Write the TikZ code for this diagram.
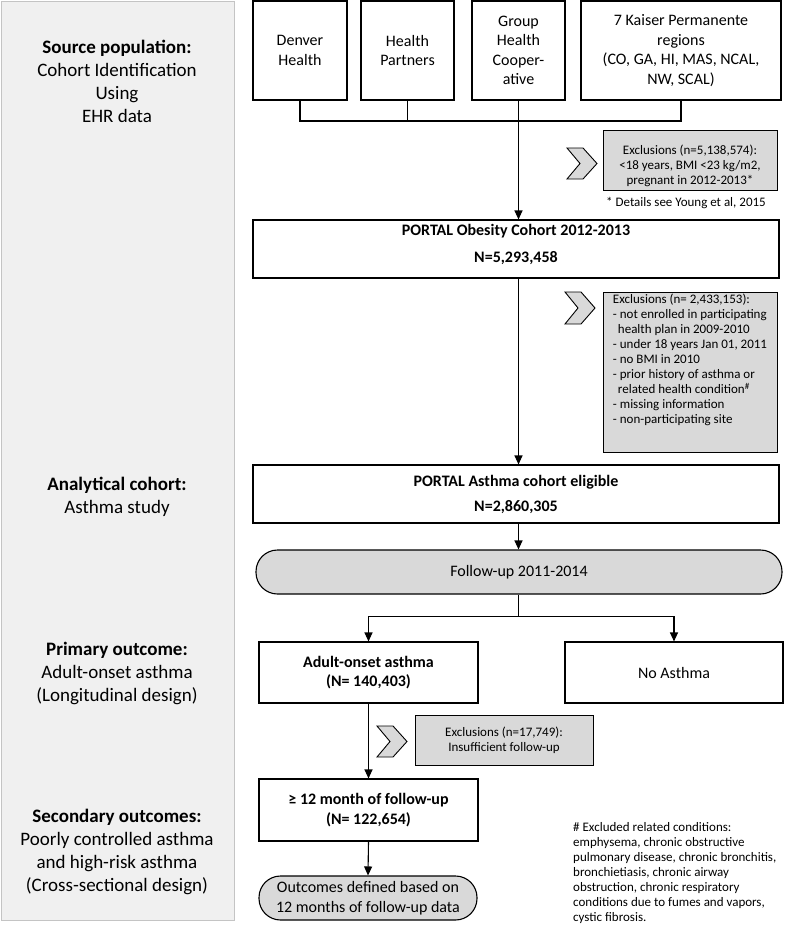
\documentclass[tikz,border=0pt]{standalone}
\usepackage{fontspec}
\setmainfont{Carlito}
\usetikzlibrary{arrows.meta}

\definecolor{panelgrey}{HTML}{F0F0F0}
\definecolor{panelline}{HTML}{C4C4C4}
\definecolor{exclgrey}{HTML}{D9D9D9}

\tikzset{
	box/.style={draw, line width=1.1pt, fill=white, align=center, inner sep=2pt, font=\fontsize{16}{19.5}\selectfont},
	exclbox/.style={draw, line width=0.9pt, fill=exclgrey, align=center, inner sep=2pt, font=\fontsize{13}{15}\selectfont},
	pillbox/.style={box, fill=exclgrey, rounded corners=21.5pt},
	sidetext/.style={align=center, font=\fontsize{19}{23}\selectfont},
	note/.style={align=left, inner sep=3pt, font=\fontsize{13}{15}\selectfont},
	line/.style={line width=1.1pt},
	arr/.style={line width=1.1pt, -{Triangle[width=8pt,length=9pt]}},
	chev/.style={draw, line width=0.9pt, fill=exclgrey, line join=miter},
}

\begin{document}
\begin{tikzpicture}[x=1pt, y=-1pt]
		\useasboundingbox (0, 0) rectangle (785, 932);

		% 左側の灰色パネルを描画
		\draw[draw=panelline, fill=panelgrey, line width=0.8pt] (1, 1) rectangle (234, 920);
		\node[sidetext] (srcpop) at (117, 81.5) {\textbf{Source population:}\\Cohort Identification\\Using\\EHR data};
		\node[sidetext] (analytic) at (117, 496.5) {\textbf{Analytical cohort:}\\Asthma study};
		\node[sidetext] (primary) at (117, 673) {\textbf{Primary outcome:}\\Adult-onset asthma\\(Longitudinal design)};
		\node[sidetext] (secondary) at (117, 852) {\textbf{Secondary outcomes:}\\Poorly controlled asthma\\and high-risk asthma\\(Cross-sectional design)};

		% 参加サイトの箱を描画
		\node[box, minimum width=94pt, minimum height=99pt] (denver) at (300, 50.5) {Denver\\Health};
		\node[box, minimum width=93pt, minimum height=99pt] (partners) at (407.5, 50.5) {Health\\Partners};
		\node[box, minimum width=93pt, minimum height=99pt] (group) at (518.5, 50.5) {Group\\Health\\Cooper-\\ative};
		\node[box, minimum width=200pt, minimum height=99pt] (kaiser) at (681, 50.5) {7 Kaiser Permanente\\regions\\(CO, GA, HI, MAS, NCAL,\\NW, SCAL)};
		\coordinate (join) at (518.5, 121);

		% コホートの箱を描画
		\node[box, minimum width=526pt, minimum height=58pt] (obesity) at (516, 249) {\textbf{PORTAL Obesity Cohort 2012-2013}\\[8pt]\textbf{N=5,293,458}\rule[-11pt]{0pt}{1pt}};
		\node[box, minimum width=526pt, minimum height=58pt] (asthma) at (516, 494) {\textbf{PORTAL Asthma cohort eligible}\\[5.5pt]\textbf{N=2,860,305}};
		\node[pillbox, minimum width=526pt, minimum height=44pt] (follow) at (519, 572) {Follow-up 2011-2014};

		% 結果の箱を描画
		\node[box, minimum width=219pt, minimum height=61pt] (adult) at (368.5, 672.5) {\textbf{Adult-onset asthma}\\\textbf{(N= 140,403)}};
		\node[box, minimum width=218pt, minimum height=61pt] (noasthma) at (674, 672.5) {No Asthma};
		\node[box, minimum width=219pt, minimum height=62pt] (month) at (368.5, 810) {\textbf{≥ 12 month of follow-up}\\\textbf{(N= 122,654)}};
		\node[pillbox, minimum width=218pt, minimum height=44pt] (outcome) at (368, 898) {Outcomes defined based on\\12 months of follow-up data};

		% 除外の箱を描画
		\node[exclbox, minimum width=174pt, minimum height=60pt] (excla) at (690, 160) {\rule{0pt}{21pt}Exclusions (n=5,138,574):\\<18 years, BMI <23 kg/m2,\\pregnant in 2012-2013*};
		\node[note, align=center] (young) at (686, 203) {* Details see Young et al, 2015};
		\node[exclbox, align=left, minimum width=174pt, minimum height=159pt] (exclb) at (690, 372.5) {Exclusions (n= 2,433,153):\\- not enrolled in participating\\\hspace*{5pt}health plan in 2009-2010\\- under 18 years Jan 01, 2011\\- no BMI in 2010\\- prior history of asthma or\\\hspace*{5pt}related health condition\textsuperscript{\#}\\- missing information\\- non-participating site\rule[-27pt]{0pt}{1pt}};
		\node[exclbox, minimum width=178pt, minimum height=50pt] (exclc) at (504, 740) {Exclusions (n=17,749):\\Insufficient follow-up};

		% 矢じり形の記号を描画
		\draw[chev] (567, 148) -- ++(16, 0) -- ++(14, 15.5) -- ++(-14, 15.5) -- ++(-16, 0) -- ++(13, -15.5) -- cycle;
		\draw[chev] (565, 292) -- ++(16, 0) -- ++(14, 16) -- ++(-14, 16) -- ++(-16, 0) -- ++(13, -16) -- cycle;
		\draw[chev] (377, 726) -- ++(16, 0) -- ++(14, 15.5) -- ++(-14, 15.5) -- ++(-16, 0) -- ++(13, -15.5) -- cycle;

		% 除外条件の注を描画
		\node[note, anchor=west] (related) at (570, 873) {\# Excluded related conditions:\\emphysema, chronic obstructive\\pulmonary disease, chronic bronchitis,\\bronchietiasis, chronic airway\\obstruction, chronic respiratory\\conditions due to fumes and vapors,\\cystic fibrosis.};

		% 線と矢印を描画
		\draw[line] (denver.south) |- (join) -| (kaiser.south);
		\draw[line] (partners.south) -- (partners.south |- join);
		\draw[arr] (group.south) -- (obesity.north -| group.south);
		\draw[arr] (obesity.south -| group.south) -- (asthma.north -| group.south);
		\draw[arr] (asthma.south -| group.south) -- (follow.north -| group.south);
		\draw[line] (follow.south -| group.south) -- ++(0, 22) coordinate (split);
		\draw[arr] (split) -| (adult.north);
		\draw[arr] (split) -| (noasthma.north);
		\draw[arr] (adult.south) -- (month.north);
		\draw[arr] (month.south) -- (outcome.north);

	\end{tikzpicture}
\end{document}
